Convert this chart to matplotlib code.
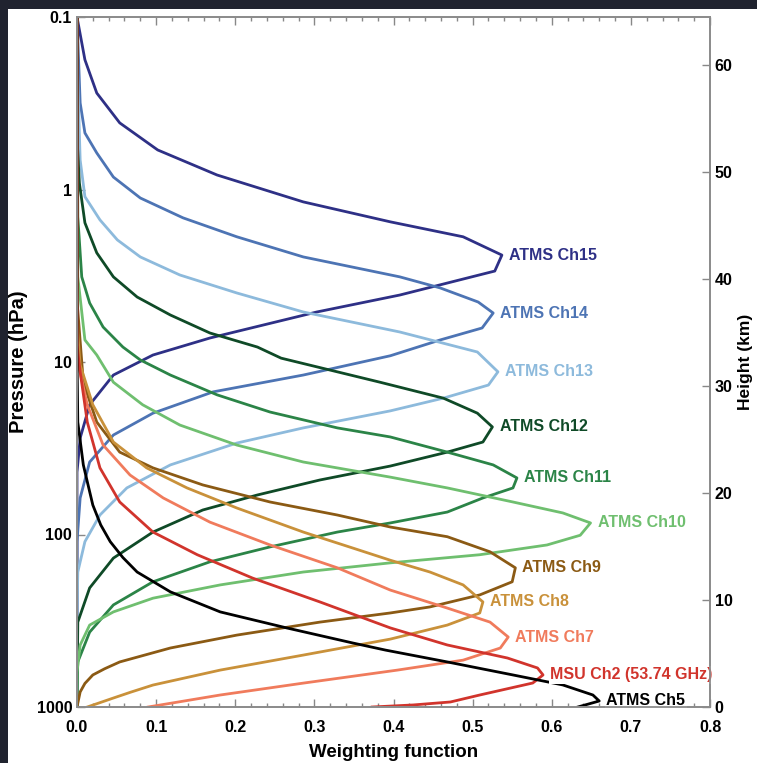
import numpy as np
import matplotlib
matplotlib.use("Agg")
import matplotlib.pyplot as plt
from matplotlib.patches import Rectangle
from matplotlib.ticker import FixedLocator, MultipleLocator, NullLocator, FormatStrFormatter

plt.rcParams['font.family'] = ['Liberation Sans', 'DejaVu Sans']
plt.rcParams['font.weight'] = 'bold'

# weighting functions: pressure (hPa) and weight
p_ch15 = [0.1, 0.177, 0.276, 0.411, 0.59, 0.824, 1.18, 1.54, 1.88, 2.4, 2.97, 4.09, 5.13, 7.26, 9.11, 11.9, 17.7, 27.6, 43.5, 1000]
w_ch15 = [0.0, 0.010, 0.025, 0.054, 0.102, 0.177, 0.286, 0.396, 0.488, 0.537, 0.528, 0.408, 0.303, 0.168, 0.096, 0.046, 0.016, 0.004, 0.0, 0.0]

p_ch14 = [0.1, 0.315, 0.47, 0.614, 0.847, 1.12, 1.46, 1.88, 2.46, 3.21, 3.72, 4.49, 5.2, 6.35, 7.45, 9.2, 11.9, 14.9, 19.8, 26.5, 38.0, 61.4, 110, 1000]
w_ch14 = [0.0, 0.004, 0.010, 0.025, 0.046, 0.080, 0.134, 0.202, 0.286, 0.408, 0.459, 0.507, 0.526, 0.512, 0.459, 0.396, 0.286, 0.172, 0.096, 0.046, 0.016, 0.004, 0.0, 0.0]

p_ch13 = [0.1, 0.162, 0.675, 1.10, 1.50, 1.96, 2.46, 3.13, 3.98, 5.13, 6.70, 8.75, 11.4, 13.6, 16.2, 19.2, 24.1, 29.5, 39.5, 53.7, 77.1, 110, 165, 293, 1000]
w_ch13 = [0.0, 0.0, 0.004, 0.010, 0.029, 0.051, 0.080, 0.130, 0.202, 0.286, 0.408, 0.506, 0.532, 0.520, 0.463, 0.396, 0.286, 0.202, 0.118, 0.063, 0.029, 0.010, 0.001, 0.0, 0.0]

p_ch12 = [0.1, 0.497, 0.916, 1.56, 2.33, 3.21, 4.20, 5.34, 6.79, 8.19, 9.5, 13.1, 16.2, 19.8, 23.8, 29.1, 33.3, 40.1, 48.3, 59.0, 72.1, 96.8, 137, 204, 322, 1000]
w_ch12 = [0.0, 0.0, 0.003, 0.010, 0.025, 0.046, 0.076, 0.118, 0.168, 0.228, 0.258, 0.383, 0.463, 0.506, 0.525, 0.513, 0.468, 0.396, 0.307, 0.228, 0.159, 0.096, 0.046, 0.016, 0.001, 0.0]

p_ch11 = [0.1, 1.44, 3.21, 4.55, 6.27, 8.19, 9.73, 11.9, 15.5, 19.5, 24.1, 27.2, 33.3, 39.5, 47.0, 53.7, 61.4, 74.1, 85.7, 96.8, 118, 144, 188, 256, 368, 548, 776, 1000]
w_ch11 = [0.0, 0.001, 0.006, 0.016, 0.033, 0.058, 0.080, 0.118, 0.177, 0.244, 0.329, 0.396, 0.468, 0.526, 0.556, 0.551, 0.513, 0.468, 0.396, 0.329, 0.244, 0.168, 0.096, 0.046, 0.016, 0.001, 0.0, 0.0]

p_ch10 = [0.1, 3.21, 7.45, 9.11, 13.1, 17.7, 23.2, 30.3, 38.0, 46.5, 53.7, 64.8, 75.0, 85.7, 101, 115, 131, 146, 165, 196, 234, 281, 335, 437, 627, 1000]
w_ch10 = [0.0, 0.001, 0.010, 0.025, 0.046, 0.083, 0.130, 0.202, 0.286, 0.396, 0.468, 0.551, 0.614, 0.649, 0.636, 0.594, 0.509, 0.396, 0.286, 0.181, 0.096, 0.046, 0.016, 0.004, 0.0, 0.0]

p_ch9 = [0.1, 4.38, 13.1, 22.3, 33.3, 41.1, 51.6, 64.8, 77.1, 90.5, 103, 126, 156, 188, 224, 263, 285, 322, 383, 455, 548, 600, 652, 730, 818, 1000]
w_ch9 = [0.0, 0.0, 0.008, 0.025, 0.054, 0.096, 0.159, 0.244, 0.329, 0.396, 0.468, 0.522, 0.554, 0.550, 0.509, 0.446, 0.396, 0.307, 0.202, 0.118, 0.054, 0.035, 0.020, 0.010, 0.004, 0.0]

p_ch8 = [0.1, 6.0, 10.4, 17.7, 29.1, 41.1, 53.7, 70.2, 96.8, 120, 141, 165, 196, 246, 285, 335, 404, 500, 611, 746, 820, 887, 1000]
w_ch8 = [0.0, 0.0, 0.004, 0.020, 0.046, 0.088, 0.139, 0.202, 0.286, 0.349, 0.396, 0.446, 0.488, 0.513, 0.509, 0.468, 0.396, 0.286, 0.181, 0.096, 0.068, 0.046, 0.013]

p_ch7 = [0.1, 6.0, 10.0, 17.7, 30.3, 45.2, 61.4, 84.8, 115, 156, 210, 267, 322, 393, 455, 535, 611, 727, 852, 1000]
w_ch7 = [0.0, 0.0, 0.001, 0.013, 0.033, 0.067, 0.109, 0.168, 0.244, 0.329, 0.396, 0.468, 0.522, 0.545, 0.535, 0.488, 0.405, 0.286, 0.181, 0.090]

p_msu2 = [0.1, 8.0, 11.4, 22.3, 41.1, 64.8, 96.8, 131, 179, 246, 348, 437, 520, 594, 652, 726, 852, 935, 973, 1000]
w_msu2 = [0.0, 0.0, 0.004, 0.013, 0.029, 0.054, 0.096, 0.152, 0.222, 0.307, 0.396, 0.468, 0.544, 0.582, 0.589, 0.576, 0.509, 0.472, 0.425, 0.373]

p_ch5 = [0.1, 9.1, 22.3, 39.5, 67.5, 88, 110, 136, 165, 215, 281, 348, 426, 468, 548, 652, 745, 852, 923, 1000]
w_ch5 = [0.0, 0.0, 0.001, 0.008, 0.020, 0.030, 0.042, 0.058, 0.076, 0.118, 0.181, 0.265, 0.349, 0.39, 0.468, 0.551, 0.614, 0.652, 0.660, 0.633]

names = ["ATMS Ch15", "ATMS Ch14", "ATMS Ch13", "ATMS Ch12", "ATMS Ch11", "ATMS Ch10",
         "ATMS Ch9", "ATMS Ch8", "ATMS Ch7", "MSU Ch2 (53.74 GHz)", "ATMS Ch5"]
colors = ["#2e3086", "#4d74b4", "#8dbadc", "#0f4a27", "#2b8447", "#6fbf6f",
          "#8b5a14", "#c9913a", "#f07b5c", "#d1342c", "#000000"]
pressures = [p_ch15, p_ch14, p_ch13, p_ch12, p_ch11, p_ch10, p_ch9, p_ch8, p_ch7, p_msu2, p_ch5]
weights = [w_ch15, w_ch14, w_ch13, w_ch12, w_ch11, w_ch10, w_ch9, w_ch8, w_ch7, w_msu2, w_ch5]

p_ticks = [0.1, 1, 10, 100, 1000]
p_labels = ["0.1", "1", "10", "100", "1000"]
w_ticks = [0.0, 0.1, 0.2, 0.3, 0.4, 0.5, 0.6, 0.7, 0.8]
scale_height = 7.0  # km, used for the height axis on the right

fig = plt.figure(figsize=(7.57, 7.63), dpi=100)
ax = fig.add_axes([77 / 757, 1 - 707 / 763, 633 / 757, 690 / 763])

for p, w, c in zip(pressures, weights, colors):
    ax.plot(w, p, color=c, lw=2.0, solid_joinstyle='round')

for name, p, w, c in zip(names, pressures, weights, colors):
    i = int(np.argmax(w))
    ax.text(w[i] + 0.009, p[i], name, color=c, fontsize=11.5, fontweight='bold',
            va='center', ha='left',
            bbox=dict(facecolor='white', edgecolor='none', pad=1.0))

ax.set_yscale('log')
ax.set_ylim(1000, 0.1)
ax.set_xlim(0, 0.8)
ax.yaxis.set_major_locator(FixedLocator(p_ticks))
ax.yaxis.set_minor_locator(NullLocator())
ax.set_yticklabels(p_labels)
ax.xaxis.set_major_locator(FixedLocator(w_ticks))
ax.xaxis.set_minor_locator(MultipleLocator(0.02))
ax.xaxis.set_major_formatter(FormatStrFormatter('%.1f'))

ax.tick_params(which='both', direction='in', top=True, right=False, colors='#888888',
               labelcolor='black', labelsize=11.5, width=1.0)
ax.tick_params(which='major', length=6)
ax.tick_params(which='minor', length=3)
ax.tick_params(axis='x', pad=9)
ax.set_xlabel("Weighting function", fontsize=13.5, fontweight='bold', labelpad=7)
ax.set_ylabel("Pressure (hPa)", fontsize=14.5, fontweight='bold', labelpad=6)

ax2 = ax.twinx()
ax2.set_ylim(0, scale_height * np.log(1e4))
ax2.yaxis.set_major_locator(MultipleLocator(10))
ax2.tick_params(direction='in', length=6, colors='#888888', labelcolor='black',
                labelsize=11.5, width=1.0)
ax2.set_ylabel("Height (km)", fontsize=12.5, fontweight='bold', labelpad=4)

for a in (ax, ax2):
    for s in a.spines.values():
        s.set_color('#8c8c8c')
        s.set_linewidth(1.3)

# dark frame strips at top and left edges of the original picture
fig.patches.append(Rectangle((0, 1 - 9 / 763), 1, 9 / 763, transform=fig.transFigure,
                             facecolor='#20232f', edgecolor='none'))
fig.patches.append(Rectangle((0, 0), 8 / 757, 1, transform=fig.transFigure,
                             facecolor='#20232f', edgecolor='none'))

fig.savefig("out.png", dpi=100)
